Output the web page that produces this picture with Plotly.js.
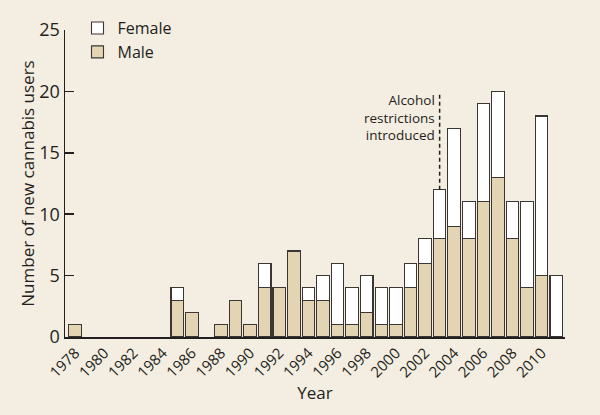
<!DOCTYPE html>
<html>
<head>
<meta charset="utf-8">
<script src="https://cdn.plot.ly/plotly-3.0.1.min.js"></script>
<style>
  html, body { margin: 0; padding: 0; background: #f4ede1; }
  #chart { width: 600px; height: 415px; }
</style>
</head>
<body>
<div id="chart"></div>
<script>
/* New cannabis users per year, by sex */

const years = [
    1978, 1979, 1980, 1981, 1982, 1983, 1984, 1985, 1986, 1987, 1988,
    1989, 1990, 1991, 1992, 1993, 1994, 1995, 1996, 1997, 1998, 1999,
    2000, 2001, 2002, 2003, 2004, 2005, 2006, 2007, 2008, 2009, 2010, 2011,
];
const male = [
    1, 0, 0, 0, 0, 0, 0, 3, 2, 0, 1,
    3, 1, 4, 4, 7, 3, 3, 1, 1, 2, 1,
    1, 4, 6, 8, 9, 8, 11, 13, 8, 4, 5, 0,
];
const female = [
    0, 0, 0, 0, 0, 0, 0, 1, 0, 0, 0,
    0, 0, 2, 0, 0, 1, 2, 5, 3, 3, 3,
    3, 2, 2, 4, 8, 3, 8, 7, 3, 7, 13, 5,
];
const xTicks = [1978, 1980, 1982, 1984, 1986, 1988, 1990, 1992, 1994, 1996,
    1998, 2000, 2002, 2004, 2006, 2008, 2010];

// restriction marker: year and span of the dashed line
const restrictionYear = 2003;
const restrictionSpan = [12, 19.8];

const FONT = 'Open Sans, Lato, sans-serif';
const INK = '#231f20';
const BG = '#f4ede1';

// zero counts drawn as no bar at all
const noZero = arr => arr.map(v => (v ? v : null));

const traceMale = {
    x: years,
    y: noZero(male),
    type: 'bar',
    name: 'Male',
    marker: { color: '#e3d5b4', line: { color: '#3a3633', width: 1.1 } },
};

const traceFemale = {
    x: years,
    y: noZero(female),
    type: 'bar',
    name: 'Female',
    marker: { color: '#ffffff', line: { color: '#3a3633', width: 1.1 } },
};

const traceMarker = {
    x: [restrictionYear, restrictionYear],
    y: restrictionSpan,
    type: 'scatter',
    mode: 'lines',
    line: { color: INK, width: 1.5, dash: '4px,3px' },
    showlegend: false,
    hoverinfo: 'skip',
};

const layout = {
    width: 600,
    height: 415,
    paper_bgcolor: BG,
    plot_bgcolor: BG,
    barmode: 'stack',
    bargap: 0.14,
    margin: { l: 65, r: 35, t: 29, b: 78 },
    font: { family: FONT, color: INK, size: 16 },
    showlegend: true,
    legend: {
        x: 0.025, y: 1.058,
        xanchor: 'left', yanchor: 'top',
        traceorder: 'reversed',
        bgcolor: 'rgba(0,0,0,0)',
        font: { size: 16, family: FONT, color: INK },
        itemwidth: 30,
        tracegroupgap: 0,
    },
    xaxis: {
        range: [1977.3, 2011.6],
        tickvals: xTicks,
        tickangle: -45,
        ticks: '',
        showgrid: false,
        zeroline: false,
        showline: true,
        linecolor: INK,
        linewidth: 1.5,
        tickfont: { size: 15 },
        title: { text: 'Year', font: { size: 17 }, standoff: 0 },
    },
    yaxis: {
        range: [0, 25],
        dtick: 5,
        ticks: 'inside',
        ticklen: 9,
        tickwidth: 1.5,
        tickcolor: INK,
        showgrid: false,
        zeroline: false,
        showline: true,
        linecolor: INK,
        linewidth: 1.5,
        tickfont: { size: 18 },
        title: { text: 'Number of new cannabis users', font: { size: 17 }, standoff: 0 },
    },
    annotations: [{
        x: restrictionYear,
        y: restrictionSpan[1],
        xref: 'x', yref: 'y',
        text: 'Alcohol<br>restrictions<br>introduced',
        showarrow: false,
        xanchor: 'right',
        yanchor: 'top',
        align: 'right',
        xshift: -3,
        yshift: 5,
        font: { size: 13.5, family: FONT, color: INK },
    }],
};

Plotly.newPlot('chart', [traceMale, traceFemale, traceMarker], layout, { staticPlot: true, displayModeBar: false });
</script>
</body>
</html>
